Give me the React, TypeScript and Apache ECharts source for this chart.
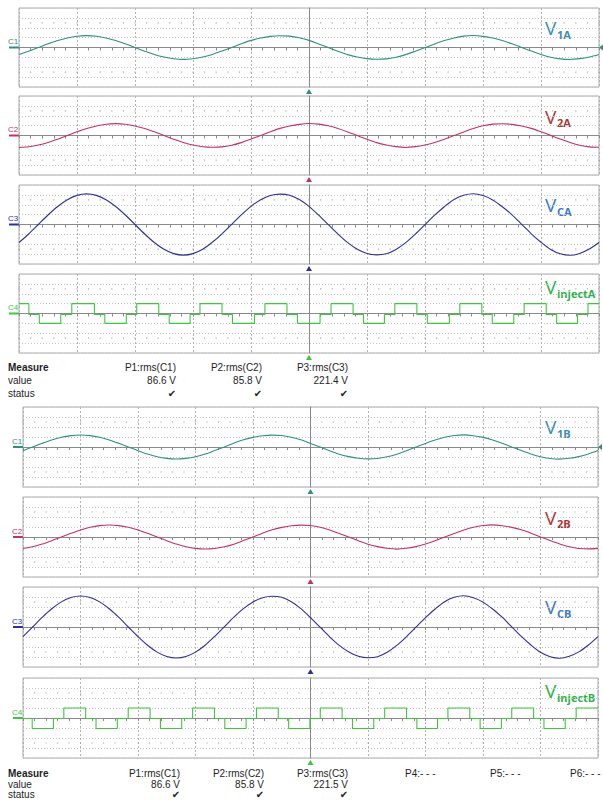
import React, { useEffect, useRef } from "react";
import * as echarts from "echarts";

// ---- time samples (divisions, centre of screen = 0) ----
const SAMPLE_T = [-5, -4.833, -4.667, -4.5, -4.333, -4.167, -4, -3.833, -3.667, -3.5, -3.333, -3.167, -3, -2.833, -2.667, -2.5, -2.333, -2.167, -2, -1.833, -1.667, -1.5, -1.333, -1.167, -1, -0.833, -0.667, -0.5, -0.333, -0.167, 0, 0.167, 0.333, 0.5, 0.667, 0.833, 1, 1.167, 1.333, 1.5, 1.667, 1.833, 2, 2.167, 2.333, 2.5, 2.667, 2.833, 3, 3.167, 3.333, 3.5, 3.667, 3.833, 4, 4.167, 4.333, 4.5, 4.667, 4.833, 5];

// ---- group A traces (divisions) ----
const V1A = [-0.71, -0.37, 0.0, 0.37, 0.71, 0.97, 1.14, 1.2, 1.14, 0.97, 0.71, 0.37, 0.0, -0.37, -0.71, -0.97, -1.14, -1.2, -1.14, -0.97,
  -0.7, -0.36, 0.01, 0.38, 0.72, 0.96, 1.13, 1.19, 1.15, 0.98, 0.72, 0.36, -0.01, -0.38, -0.72, -0.96, -1.13, -1.19, -1.15, -0.98,
  -0.72, -0.38, -0.01, 0.36, 0.7, 0.97, 1.15, 1.21, 1.13, 0.96, 0.7, 0.38, 0.01, -0.36, -0.7, -0.98, -1.15, -1.21, -1.13, -0.96, -0.7];
const V2A = [-1.2, -1.14, -0.97, -0.71, -0.37, 0.0, 0.37, 0.71, 0.97, 1.14, 1.2, 1.14, 0.97, 0.71, 0.37, 0.0, -0.37, -0.71, -0.97, -1.14,
  -1.19, -1.15, -0.98, -0.72, -0.36, 0.01, 0.38, 0.72, 0.96, 1.13, 1.21, 1.15, 0.98, 0.7, 0.36, -0.01, -0.38, -0.72, -0.96, -1.13,
  -1.21, -1.13, -0.96, -0.7, -0.38, -0.01, 0.36, 0.7, 0.98, 1.15, 1.19, 1.13, 0.96, 0.72, 0.38, 0.01, -0.36, -0.7, -0.98, -1.15, -1.19];
const VCA = [-1.82, -0.96, 0.0, 0.96, 1.82, 2.51, 2.95, 3.1, 2.95, 2.51, 1.82, 0.96, 0.0, -0.96, -1.82, -2.51, -2.95, -3.1, -2.95, -2.51,
  -1.8, -0.94, 0.02, 0.98, 1.84, 2.5, 2.93, 3.08, 2.97, 2.53, 1.84, 0.94, -0.02, -0.98, -1.84, -2.5, -2.93, -3.08, -2.97, -2.53,
  -1.84, -0.98, -0.02, 0.94, 1.8, 2.53, 2.97, 3.12, 2.93, 2.49, 1.8, 0.98, 0.02, -0.94, -1.8, -2.53, -2.97, -3.12, -2.93, -2.49, -1.82];
const INJECT_A_T = [-5, -4.83, -4.65, -4.28, -4.09, -3.7, -3.52, -3.15, -2.97, -2.59, -2.41, -2.05, -1.88, -1.5, -1.32, -0.94, -0.76, -0.38, -0.2, 0.19, 0.38, 0.76, 0.94, 1.3, 1.48, 1.86, 2.04, 2.42, 2.6, 2.98, 3.16, 3.53, 3.71, 4.09, 4.27, 4.63, 4.81, 5];
const INJECT_A_V = [1, -0.1, -1, -0.1, 1, -0.1, -1, -0.1, 1, -0.1, -1, -0.1, 1, -0.1, -1, -0.1, 1, -0.1, -1, -0.1, 1, -0.1, -1, -0.1, 1, -0.1, -1, -0.1, 1, -0.1, -1, -0.1, 1, -0.1, -1, -0.1, 1, 1];

// ---- group B traces (divisions) ----
const V1B = [-0.37, 0.0, 0.37, 0.71, 0.97, 1.14, 1.2, 1.14, 0.97, 0.71, 0.37, 0.0, -0.37, -0.71, -0.97, -1.14, -1.2, -1.14, -0.97, -0.71,
  -0.36, 0.01, 0.38, 0.72, 0.96, 1.13, 1.19, 1.15, 0.98, 0.72, 0.36, -0.01, -0.38, -0.72, -0.96, -1.13, -1.19, -1.15, -0.98, -0.72,
  -0.38, -0.01, 0.36, 0.7, 0.97, 1.15, 1.21, 1.13, 0.96, 0.7, 0.38, 0.01, -0.36, -0.7, -0.98, -1.15, -1.21, -1.13, -0.96, -0.7, -0.36];
const V2B = [-1.14, -0.97, -0.71, -0.37, 0.0, 0.37, 0.71, 0.97, 1.14, 1.2, 1.14, 0.97, 0.71, 0.37, 0.0, -0.37, -0.71, -0.97, -1.14, -1.2,
  -1.15, -0.98, -0.72, -0.36, 0.01, 0.38, 0.72, 0.96, 1.13, 1.19, 1.15, 0.98, 0.7, 0.36, -0.01, -0.38, -0.72, -0.96, -1.13, -1.21,
  -1.13, -0.96, -0.7, -0.38, -0.01, 0.36, 0.7, 0.98, 1.15, 1.21, 1.13, 0.96, 0.72, 0.38, 0.01, -0.36, -0.7, -0.98, -1.15, -1.19, -1.14];
const VCB = [-0.96, 0.0, 0.96, 1.82, 2.51, 2.95, 3.1, 2.95, 2.51, 1.82, 0.96, 0.0, -0.96, -1.82, -2.51, -2.95, -3.1, -2.95, -2.51, -1.82,
  -0.94, 0.02, 0.98, 1.84, 2.5, 2.93, 3.08, 2.97, 2.53, 1.84, 0.94, -0.02, -0.98, -1.84, -2.5, -2.93, -3.08, -2.97, -2.53, -1.84,
  -0.98, -0.02, 0.94, 1.8, 2.53, 2.97, 3.12, 2.93, 2.49, 1.8, 0.98, 0.02, -0.94, -1.8, -2.53, -2.97, -3.12, -2.93, -2.49, -1.8, -0.96];
const INJECT_B_T = [-5, -4.84, -4.47, -4.29, -3.91, -3.73, -3.36, -3.17, -2.79, -2.61, -2.24, -2.05, -1.67, -1.49, -1.12, -0.94, -0.56, -0.38, -0.01, 0.17, 0.55, 0.73, 1.1, 1.29, 1.67, 1.85, 2.21, 2.39, 2.77, 2.95, 3.32, 3.5, 3.88, 4.06, 4.43, 4.62, 5];
const INJECT_B_V = [-0.05, -1.05, -0.05, 1, -0.05, -1.05, -0.05, 1, -0.05, -1.05, -0.05, 1, -0.05, -1.05, -0.05, 1, -0.05, -1.05, -0.05, 1, -0.05, -1.05, -0.05, 1, -0.05, -1.05, -0.05, 1, -0.05, -1.05, -0.05, 1, -0.05, -1.05, -0.05, 1, 1];

// ---- labels ----
const CHANNELS = ["C1", "C2", "C3", "C4"];
const LABEL_SUBS = ["1A", "2A", "CA", "injectA", "1B", "2B", "CB", "injectB"];
const MEASURE_ROWS = ["Measure", "value", "status"];
const MEAS_A_NAMES = ["P1:rms(C1)", "P2:rms(C2)", "P3:rms(C3)"];
const MEAS_A_VALUES = ["86.6 V", "85.8 V", "221.4 V"];
const MEAS_B_NAMES = ["P1:rms(C1)", "P2:rms(C2)", "P3:rms(C3)"];
const MEAS_B_VALUES = ["86.6 V", "85.8 V", "221.5 V"];
const MEAS_B_EMPTY = ["P4:- - -", "P5:- - -", "P6:- - -"];
const DOT_ROWS = [-2.5, 2.5];

// ---- styling / layout ----
const TRACE_COLORS = ["#2f9080", "#c4306c", "#2c2f9c", "#3fc63f"];
const LABEL_COLORS = ["#3b8db8", "#ad3636", "#3b79c2", "#2db34a"];
const GROUPS = [
  { left: 19, width: 580, tops: [8, 96, 185, 274], height: 79, chanX: 8 },
  { left: 23, width: 575, tops: [407, 497, 587, 678], height: 80, chanX: 12 },
];
const LABEL_DY = [20, 20.5, 20, 13];

function buildOption() {
  const grids: any[] = [];
  const xAxes: any[] = [];
  const yAxes: any[] = [];
  const series: any[] = [];
  const graphics: any[] = [];
  const traces = [V1A, V2A, VCA, null, V1B, V2B, VCB, null];
  const injects = [
    [INJECT_A_T, INJECT_A_V],
    [INJECT_B_T, INJECT_B_V],
  ];
  const dotX: number[] = [];
  for (let k = 0; k <= 50; k++) dotX.push(-5 + k * 0.2);

  for (let p = 0; p < 8; p++) {
    const g = GROUPS[p < 4 ? 0 : 1];
    const j = p % 4;
    const top = g.tops[j];
    const mid = top + g.height / 2;
    const cx = g.left + g.width / 2;
    grids.push({ left: g.left, top, width: g.width, height: g.height, show: true, borderColor: "#aaaaaa", borderWidth: 1, backgroundColor: "#ffffff" });
    xAxes.push({
      gridIndex: p, type: "value", min: -5, max: 5, interval: 1,
      axisLine: { show: true, onZero: true, lineStyle: { color: "#8a8a8a", width: 1 } },
      axisTick: { show: true, length: 3, lineStyle: { color: "#8a8a8a" } },
      minorTick: { show: true, splitNumber: 5, length: 3, lineStyle: { color: "#8a8a8a" } },
      axisLabel: { show: false },
      splitLine: { show: true, lineStyle: { color: "#b3b3b3", type: [2, 2], width: 1 } },
    });
    yAxes.push({
      gridIndex: p, type: "value", min: -4, max: 4, interval: 1,
      axisLine: { show: true, onZero: true, lineStyle: { color: "#8a8a8a", width: 1 } },
      axisTick: { show: false },
      axisLabel: { show: false },
      splitLine: { show: true, lineStyle: { color: "#c4c4c4", type: [1, 2], width: 1 } },
    });
    const dots: number[][] = [];
    DOT_ROWS.forEach((r) => dotX.forEach((x) => dots.push([x, r])));
    series.push({ type: "scatter", xAxisIndex: p, yAxisIndex: p, data: dots, symbol: "rect", symbolSize: 1.2, itemStyle: { color: "#9a9a9a" }, silent: true, z: 1 });

    const tr = traces[p];
    if (tr) {
      series.push({
        type: "line", xAxisIndex: p, yAxisIndex: p,
        data: SAMPLE_T.map((t, i) => [t, tr[i]]),
        showSymbol: false, smooth: 0.3, lineStyle: { color: TRACE_COLORS[j], width: 1.1 }, z: 3,
      });
    } else {
      const [ts, vs] = injects[p < 4 ? 0 : 1];
      series.push({
        type: "line", xAxisIndex: p, yAxisIndex: p, step: "end",
        data: ts.map((t, i) => [t, vs[i]]),
        showSymbol: false, lineStyle: { color: TRACE_COLORS[j], width: 1.1 }, z: 3,
      });
    }

    graphics.push({ type: "text", x: g.chanX, y: mid - 6, style: { text: CHANNELS[j], fill: TRACE_COLORS[j], fontSize: 8, fontFamily: "Liberation Sans", align: "left", verticalAlign: "middle", textAlign: "left", textVerticalAlign: "middle" } });
    graphics.push({ type: "line", shape: { x1: g.chanX + 1, y1: mid, x2: g.left, y2: mid }, style: { stroke: TRACE_COLORS[j], lineWidth: 2 } });
    const by = top + g.height + 2;
    graphics.push({ type: "polygon", shape: { points: [[cx - 3, by + 5], [cx + 3, by + 5], [cx, by]] }, style: { fill: TRACE_COLORS[j] } });
    if (j === 0) {
      const rx = g.left + g.width;
      graphics.push({ type: "polygon", shape: { points: [[rx, mid], [rx + 4, mid - 3], [rx + 4, mid + 3]] }, style: { fill: TRACE_COLORS[j] } });
    }
    const ly = top + LABEL_DY[j];
    graphics.push({ type: "text", x: 545, y: ly, style: { text: "V", fill: LABEL_COLORS[j], fontSize: 19, fontFamily: "Open Sans", align: "left", verticalAlign: "middle", textAlign: "left", textVerticalAlign: "middle" } });
    graphics.push({ type: "text", x: 557, y: ly + 6, style: { text: LABEL_SUBS[p], fill: LABEL_COLORS[j], fontSize: 11, fontWeight: "bold", fontFamily: "Open Sans", align: "left", verticalAlign: "middle", textAlign: "left", textVerticalAlign: "middle" } });
  }

  const txt = (x: number, y: number, text: string, align: string, bold = false, family = "Liberation Sans") => ({
    type: "text", x, y,
    style: { text, fill: "#1e1e1e", fontSize: 10, fontWeight: bold ? "bold" : "normal", fontFamily: family, align, verticalAlign: "middle", textAlign: align, textVerticalAlign: "middle" },
  });
  const tables = [
    { ys: [367, 380, 393], names: MEAS_A_NAMES, values: MEAS_A_VALUES, rights: [176, 262, 348] },
    { ys: [773, 784.5, 794], names: MEAS_B_NAMES, values: MEAS_B_VALUES, rights: [180, 264, 348] },
  ];
  tables.forEach((tb) => {
    MEASURE_ROWS.forEach((r, i) => graphics.push(txt(8, tb.ys[i], r, "left", i === 0)));
    tb.names.forEach((n, i) => {
      graphics.push(txt(tb.rights[i], tb.ys[0], n, "right"));
      graphics.push(txt(tb.rights[i], tb.ys[1], tb.values[i], "right"));
      graphics.push(txt(tb.rights[i] - 4, tb.ys[2], "✔", "center", false, "DejaVu Sans"));
    });
  });
  const emptyLefts = [405, 490, 570];
  MEAS_B_EMPTY.forEach((n, i) => graphics.push(txt(emptyLefts[i], 773, n, "left")));

  return {
    animation: false,
    backgroundColor: "#ffffff",
    grid: grids,
    xAxis: xAxes,
    yAxis: yAxes,
    series,
    graphic: { elements: graphics },
  };
}

export default function App() {
  const ref = useRef<HTMLDivElement>(null);
  useEffect(() => {
    if (!ref.current) return;
    const chart = echarts.init(ref.current, undefined, { renderer: "svg" });
    chart.setOption(buildOption() as any);
    return () => chart.dispose();
  }, []);
  return <div ref={ref} style={{ position: "absolute", left: 0, top: 0, width: 603, height: 800 }} />;
}
